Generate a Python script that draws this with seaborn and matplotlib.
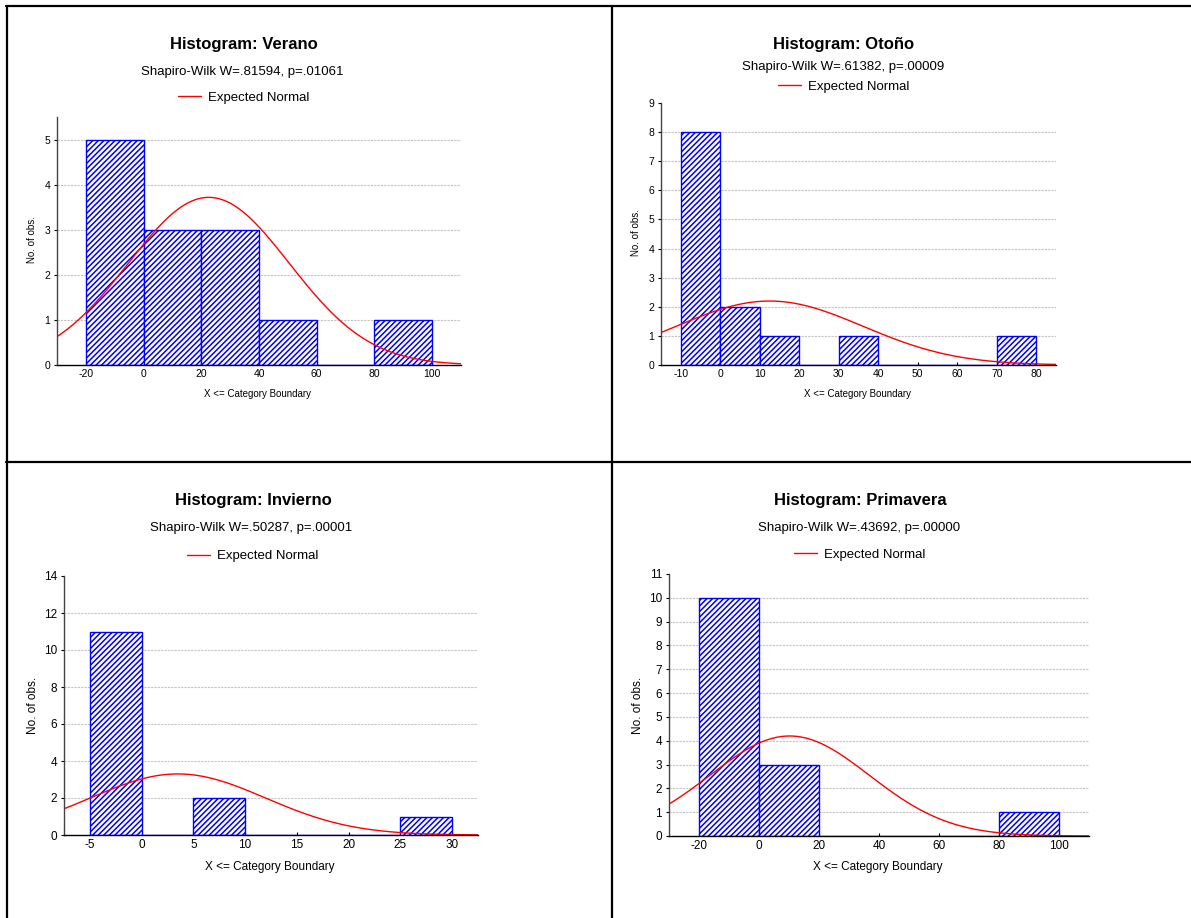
'''
four histograms of seasonal data with expected normal curves (Statistica style)
'''

import numpy as np
import pandas as pd
import seaborn as sns
import matplotlib.pyplot as plt

# --- Data ---
verano_edges = [-20, 0, 20, 40, 60, 80, 100]
verano_counts = [5, 3, 3, 1, 0, 1]
verano_mean, verano_sd = 22.6, 27.9

otono_edges = [-10, 0, 10, 20, 30, 40, 50, 60, 70, 80]
otono_counts = [8, 2, 1, 0, 1, 0, 0, 0, 1]
otono_mean, otono_sd = 12.5, 23.6

invierno_edges = [-5, 0, 5, 10, 15, 20, 25, 30]
invierno_counts = [11, 0, 2, 0, 0, 0, 1]
invierno_mean, invierno_sd = 3.5, 8.46

primavera_edges = [-20, 0, 20, 40, 60, 80, 100]
primavera_counts = [10, 3, 0, 0, 0, 1]
primavera_mean, primavera_sd = 10.2, 26.6

season_names = ["Verano", "Otoño", "Invierno", "Primavera"]
shapiro_labels = ["Shapiro-Wilk W=.81594, p=.01061",
                  "Shapiro-Wilk W=.61382, p=.00009",
                  "Shapiro-Wilk W=.50287, p=.00001",
                  "Shapiro-Wilk W=.43692, p=.00000"]
# --- End data ---

W, H = 1191, 918

sns.set_theme(style="white")
plt.rcParams['font.family'] = ['Liberation Sans', 'DejaVu Sans']
plt.rcParams['hatch.linewidth'] = 1.1
plt.rcParams['axes.unicode_minus'] = False
plt.rcParams['text.color'] = 'black'


def fx(x):
    return x / W


def fy(y):
    return 1 - y / H


# panel layout in pixels: axes box, text centres, limits
panels = [
    dict(edges=verano_edges, counts=verano_counts, mean=verano_mean, sd=verano_sd,
         box=(57, 461, 117, 365), xlim=(-30, 110), ylim=(0, 5.5), xticks=range(-20, 101, 20),
         yticks=range(0, 6), title=(244, 45), sub=(242, 72), leg=(244, 98),
         xlab=(257, 394), ylab=(32, 240), tick_fs=7.5, lab_fs=7),
    dict(edges=otono_edges, counts=otono_counts, mean=otono_mean, sd=otono_sd,
         box=(661, 1056, 103, 365), xlim=(-15, 85), ylim=(0, 9), xticks=range(-10, 81, 10),
         yticks=range(0, 10), title=(844, 44), sub=(843, 67), leg=(844, 87),
         xlab=(857, 394), ylab=(636, 233), tick_fs=7.5, lab_fs=7),
    dict(edges=invierno_edges, counts=invierno_counts, mean=invierno_mean, sd=invierno_sd,
         box=(64, 478, 576, 835), xlim=(-7.5, 32.5), ylim=(0, 14), xticks=range(-5, 31, 5),
         yticks=range(0, 15, 2), title=(253, 501), sub=(251, 528), leg=(253, 556),
         xlab=(270, 867), ylab=(33, 705), tick_fs=8.5, lab_fs=8.5),
    dict(edges=primavera_edges, counts=primavera_counts, mean=primavera_mean, sd=primavera_sd,
         box=(669, 1089, 574, 836), xlim=(-30, 110), ylim=(0, 11), xticks=range(-20, 101, 20),
         yticks=range(0, 12), title=(860, 501), sub=(859, 528), leg=(860, 555),
         xlab=(878, 867), ylab=(638, 705), tick_fs=8.5, lab_fs=8.5),
]

fig = plt.figure(figsize=(W / 100, H / 100), dpi=100)

for name, shapiro, p in zip(season_names, shapiro_labels, panels):
    left, right, top, bottom = p["box"]
    ax = fig.add_axes([fx(left), fy(bottom), (right - left) / W, (bottom - top) / H])

    edges = [float(e) for e in p["edges"]]
    counts = [float(c) for c in p["counts"]]
    df = pd.DataFrame({
        "center": [(a + b) / 2 for a, b in zip(edges[:-1], edges[1:])],
        "count": counts,
    })

    sns.histplot(data=df, x="center", weights="count", bins=edges, stat="count", ax=ax,
                 color="white", alpha=1, edgecolor="blue", linewidth=1)
    for patch in ax.patches:
        patch.set_facecolor("white")
        patch.set_hatch("//////")
        patch.set_edgecolor("#0000ff")

    # expected normal curve scaled to counts
    n_obs = sum(counts)
    bw = edges[1] - edges[0]
    xs = np.linspace(p["xlim"][0], p["xlim"][1], 300)
    ys = n_obs * bw * np.exp(-0.5 * ((xs - p["mean"]) / p["sd"]) ** 2) / (p["sd"] * np.sqrt(2 * np.pi))
    sns.lineplot(x=xs, y=ys, ax=ax, color="red", linewidth=1, label="Expected Normal")

    ax.set_xlim(*p["xlim"])
    ax.set_ylim(*p["ylim"])
    ax.set_xticks(list(p["xticks"]))
    ax.set_yticks(list(p["yticks"]))

    # dashed gridlines behind bars, skip 0 and the top edge
    for yv in p["yticks"]:
        if 0 < yv < p["ylim"][1]:
            ax.axhline(yv, color="#c4c4c4", linestyle=(0, (2, 1)), linewidth=0.8, zorder=0)

    for side in ["top", "right"]:
        ax.spines[side].set_visible(False)
    ax.spines["left"].set_color("#444444")
    ax.spines["bottom"].set_color("black")
    ax.spines["left"].set_linewidth(1)
    ax.spines["bottom"].set_linewidth(1)
    ax.tick_params(axis="both", labelsize=p["tick_fs"], colors="black", pad=3)
    ax.tick_params(axis="y", direction="out", length=2, width=0.8, left=True)
    ax.tick_params(axis="x", direction="in", length=2, width=0.8, bottom=True)
    ax.set_xlabel("")
    ax.set_ylabel("")

    ax.legend(loc="center", bbox_to_anchor=(fx(p["leg"][0]), fy(p["leg"][1])),
              bbox_transform=fig.transFigure, frameon=False, fontsize=9.5,
              handlelength=1.7, handletextpad=0.6, borderpad=0, labelcolor="black")

    fig.text(fx(p["title"][0]), fy(p["title"][1]), f"Histogram: {name}",
             ha="center", va="center", fontsize=12, fontweight="bold", color="black")
    fig.text(fx(p["sub"][0]), fy(p["sub"][1]), shapiro,
             ha="center", va="center", fontsize=9.5, color="black")
    fig.text(fx(p["xlab"][0]), fy(p["xlab"][1]), "X <= Category Boundary",
             ha="center", va="center", fontsize=p["lab_fs"], color="black")
    fig.text(fx(p["ylab"][0]), fy(p["ylab"][1]), "No. of obs.",
             ha="center", va="center", fontsize=p["lab_fs"], rotation=90, color="black")

# panel frame lines
frame_kw = dict(color="black", linewidth=1.6, transform=fig.transFigure)
fig.add_artist(plt.Line2D([fx(7), fx(7)], [fy(6), 0], **frame_kw))
fig.add_artist(plt.Line2D([fx(6), 1], [fy(6), fy(6)], **frame_kw))
fig.add_artist(plt.Line2D([fx(612), fx(612)], [fy(6), 0], **frame_kw))
fig.add_artist(plt.Line2D([fx(6), 1], [fy(462), fy(462)], **frame_kw))

fig.savefig("out.png", dpi=100, facecolor="white")
plt.close(fig)
